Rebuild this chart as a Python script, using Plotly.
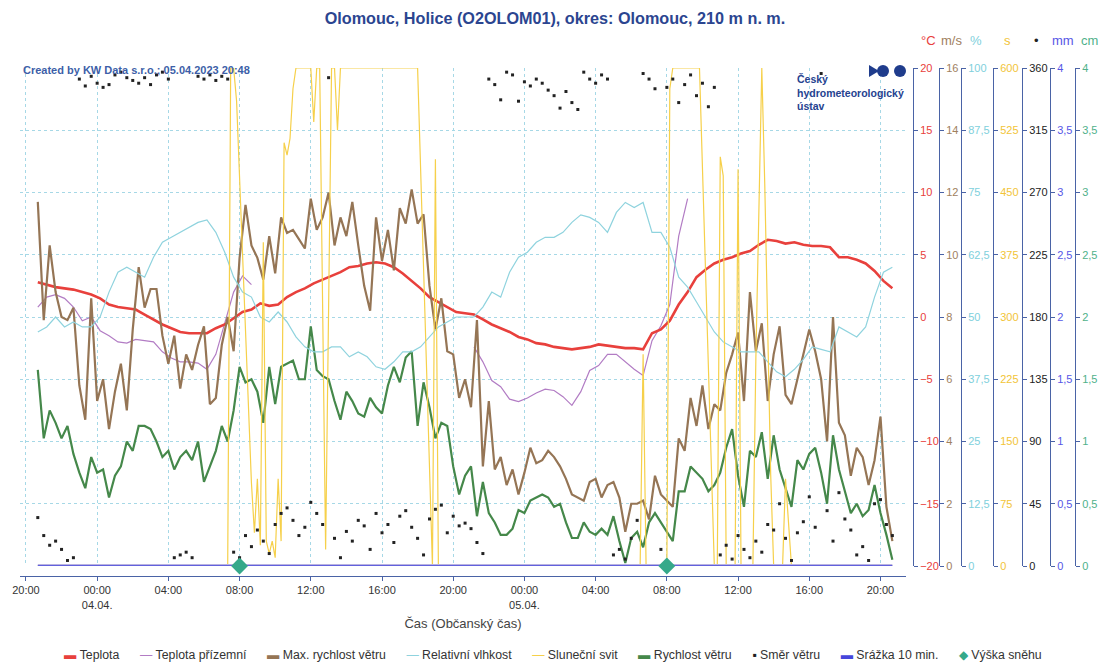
import pandas as pd
import plotly.graph_objects as go

# ---------------- data ----------------
t30 = pd.date_range("2023-04-03 20:40", periods=97, freq="30min")
t20 = pd.date_range("2023-04-03 20:40", periods=145, freq="20min")

temperature = [2.8, 2.6, 2.4, 2.3, 2.2, 2.0, 1.8, 1.5, 1.0, 0.8,
               0.7, 0.6, 0.2, -0.2, -0.6, -0.9, -1.2, -1.3, -1.3, -1.3,
               -0.9, -0.6, -0.1, 0.4, 0.6, 1.1, 0.9, 1.0, 1.6, 2.0,
               2.3, 2.7, 3.0, 3.3, 3.6, 4.0, 4.1, 4.3, 4.4, 4.3,
               4.0, 3.5, 2.9, 2.3, 1.6, 1.2, 0.8, 0.4, 0.3, 0.2,
               -0.2, -0.6, -0.9, -1.2, -1.6, -1.8, -2.1, -2.2, -2.4, -2.5,
               -2.6, -2.5, -2.4, -2.2, -2.3, -2.4, -2.5, -2.5, -2.6, -1.3,
               -1.0, -0.3, 1.0, 2.0, 3.2, 3.8, 4.3, 4.6, 4.8, 5.1,
               5.3, 5.8, 6.2, 6.1, 5.9, 6.0, 5.8, 5.7, 5.7, 5.6,
               4.8, 4.8, 4.6, 4.3, 3.7, 2.9, 2.3]

ground_temperature = ([0.8, 1.6, 1.8, 1.5, 0.8, -0.3, 0.0, -1.1, -1.5, -2.0,
                       -2.1, -1.8, -1.9, -2.0, -2.8, -3.3, -3.6, -3.6, -3.7, -4.2,
                       -3.0, -0.5, 2.0, 3.3, 2.6]
                      + [None] * 24
                      + [-2.4, -3.6, -5.1, -5.6, -6.6, -6.8, -6.5, -6.1, -5.8, -5.9,
                         -6.4, -7.1, -6.0, -4.3, -3.9, -3.0, -3.0, -3.6, -4.2, -4.7,
                         -1.9, -0.7, 1.0, 6.5, 9.5]
                      + [None] * 23)

humidity = [47, 48, 50, 48, 49, 48, 48, 50, 55, 59,
            60, 59, 58, 62, 65, 66, 67, 68, 69, 69.5,
            67, 63, 58, 55, 54, 50, 49, 51, 49, 46,
            44, 43, 43, 44, 44, 42, 43, 42, 40, 39.5,
            41, 43, 43, 44, 46, 48, 49, 50, 50, 50,
            52, 55, 54, 59, 62, 63, 65, 66, 66, 67,
            69, 70.5, 70, 69, 67, 71, 73, 72, 73, 67,
            67, 64, 58, 56, 53, 50, 47, 45, 44, 43,
            43, 43, 41, 39, 38, 39.5, 41.5, 44, 43.5, 43,
            48, 47, 46, 48, 54, 59, 60]

max_wind = [11.7, 7.9, 10.3, 8.8, 8.0, 7.9, 8.3, 5.8, 4.7, 8.6,
            5.3, 6.0, 4.4, 5.6, 6.5, 5.0, 7.6, 9.6, 8.3, 8.9,
            8.9, 7.4, 6.5, 7.4, 5.7, 6.8, 6.3, 7.1, 7.7, 5.2,
            5.4, 7.1, 8.0, 6.9, 9.9, 11.6, 10.3, 9.9, 9.2, 10.6,
            9.4, 11.2, 10.7, 10.8, 10.5, 10.2, 11.8, 10.8, 11.2, 12.0,
            10.3, 11.2, 10.6, 11.7, 10.3, 9.0, 8.2, 11.2, 9.8, 10.8,
            9.5, 11.5, 11.0, 12.1, 11.0, 11.3, 9.0, 7.6, 8.6, 6.9,
            6.8, 5.4, 6.0, 5.1, 7.9, 3.2, 5.3, 3.1, 3.5, 2.6,
            3.1, 2.3, 3.0, 3.8, 3.3, 3.4, 3.7, 3.5, 3.2, 2.8,
            2.3, 2.2, 2.1, 2.7, 2.8, 2.2, 2.6, 2.7, 2.2, 1.1,
            2.0, 2.0, 2.1, 1.5, 2.9, 2.3, 2.1, 1.9, 4.1, 3.7,
            5.4, 4.5, 5.8, 4.4, 5.2, 5.0, 6.2, 6.8, 7.5, 5.3,
            8.8, 6.9, 7.8, 5.3, 6.8, 7.7, 5.5, 5.2, 6.0, 6.8,
            7.6, 6.9, 6.0, 4.0, 8.0, 4.6, 4.2, 2.9, 3.8, 3.5,
            2.6, 3.4, 4.8, 1.9, 0.8]

wind = [6.3, 4.1, 5.0, 4.6, 4.1, 4.5, 3.6, 3.0, 2.5, 3.5,
        3.0, 3.1, 2.2, 2.9, 3.2, 4.0, 3.7, 4.5, 4.5, 4.4,
        4.0, 3.5, 3.7, 3.1, 3.5, 3.7, 3.4, 4.0, 2.7, 3.2,
        3.7, 4.5, 4.0, 5.0, 6.4, 5.9, 6.0, 5.6, 4.6, 6.4,
        5.2, 6.4, 6.5, 6.6, 6.0, 6.0, 7.7, 6.3, 6.1, 6.0,
        5.3, 4.7, 5.6, 5.3, 4.9, 4.8, 5.4, 5.1, 4.9, 5.8,
        6.4, 5.9, 6.7, 6.9, 4.5, 5.9, 5.1, 4.1, 4.6, 4.5,
        3.2, 2.3, 2.9, 3.2, 1.6, 2.7, 1.7, 1.4, 1.0, 1.0,
        1.2, 1.8, 1.7, 2.1, 2.2, 2.3, 2.2, 1.9, 2.0, 1.4,
        0.9, 0.9, 1.4, 1.1, 1.0, 1.2, 1.0, 1.6, 0.8, 0.1,
        0.9, 1.1, 0.6, 1.4, 1.7, 1.4, 1.1, 0.8, 2.4, 2.4,
        3.2, 3.0, 2.8, 2.4, 2.6, 3.0, 3.8, 4.4, 2.9, 1.9,
        3.7, 3.5, 4.3, 2.8, 4.2, 3.1, 2.5, 1.9, 3.4, 3.1,
        3.6, 3.8, 3.0, 2.0, 4.2, 3.1, 2.4, 1.7, 2.0, 1.6,
        1.8, 2.6, 1.7, 1.0, 0.2]

wind_direction = [35, 22, 15, 18, 12, 4, 6, 352, 347, 354,
                  349, 346, 348, 355, 357, 353, 351, 349, 353, 348,
                  355, 357, 352, 6, 8, 10, 6, 354, 352, 355,
                  351, 354, 352, 10, 6, 22, 14, 26, 18, 9,
                  30, 38, 42, 33, 22, 28, 46, 38, 30, 353,
                  20, 6, 25, 18, 33, 29, 12, 38, 24, 30,
                  17, 36, 40, 28, 20, 8, 34, 41, 44, 24,
                  36, 29, 31, 27, 17, 9, 352, 348, 337, 357,
                  355, 336, 350, 347, 352, 349, 344, 340, 331, 343,
                  335, 330, 357, 352, 349, 355, 352, 8, 12, 5,
                  20, 33, 356, 352, 345, 12, 346, 352, 335, 348,
                  355, 340, 349, 332, 346, 8, 15, 5, 22, 12,
                  6, 18, 10, 30, 26, 45, 20, 4, 24, 32,
                  50, 28, 356, 40, 18, 53, 34, 26, 8, 14,
                  4, 45, 48, 30, 22]

sunshine_times = [
    "2023-04-03 20:40", "2023-04-04 07:20", "2023-04-04 07:30", "2023-04-04 07:40",
    "2023-04-04 07:50", "2023-04-04 08:00", "2023-04-04 08:10", "2023-04-04 08:20",
    "2023-04-04 08:30", "2023-04-04 08:40", "2023-04-04 08:50", "2023-04-04 09:00",
    "2023-04-04 09:10", "2023-04-04 09:20", "2023-04-04 09:30", "2023-04-04 09:40",
    "2023-04-04 09:50", "2023-04-04 10:00", "2023-04-04 10:10", "2023-04-04 10:20",
    "2023-04-04 10:30", "2023-04-04 10:40", "2023-04-04 10:50", "2023-04-04 11:00",
    "2023-04-04 11:10", "2023-04-04 12:00", "2023-04-04 12:10", "2023-04-04 12:20",
    "2023-04-04 12:30", "2023-04-04 12:40", "2023-04-04 12:50", "2023-04-04 13:00",
    "2023-04-04 13:10", "2023-04-04 13:20", "2023-04-04 13:30", "2023-04-04 13:40",
    "2023-04-04 18:00", "2023-04-04 18:10", "2023-04-04 18:20", "2023-04-04 18:30",
    "2023-04-04 18:40", "2023-04-04 18:50", "2023-04-04 19:00", "2023-04-04 19:10",
    "2023-04-05 06:30", "2023-04-05 06:40", "2023-04-05 06:50", "2023-04-05 08:00",
    "2023-04-05 08:10", "2023-04-05 08:20", "2023-04-05 09:50", "2023-04-05 10:00",
    "2023-04-05 10:10", "2023-04-05 10:20", "2023-04-05 10:30", "2023-04-05 10:40",
    "2023-04-05 10:50", "2023-04-05 11:00", "2023-04-05 11:10", "2023-04-05 11:20",
    "2023-04-05 11:50", "2023-04-05 12:00", "2023-04-05 12:10", "2023-04-05 12:50",
    "2023-04-05 13:00", "2023-04-05 13:10", "2023-04-05 13:20", "2023-04-05 13:30",
    "2023-04-05 13:40", "2023-04-05 13:50", "2023-04-05 14:00", "2023-04-05 14:30",
    "2023-04-05 14:40", "2023-04-05 14:50", "2023-04-05 15:00", "2023-04-05 20:40"]
sunshine = [0, 0, 600, 600,
            560, 470, 380, 280,
            190, 100, 40, 105,
            25, 390, 30, 15,
            30, 10, 105, 30,
            510, 495, 515, 575,
            600, 600, 535, 600,
            600, 280, 20, 310,
            600, 600, 525, 600,
            600, 480, 360, 240,
            120, 0, 490, 0,
            0, 255, 0, 0,
            575, 600, 600, 480,
            370, 240, 110, 0,
            0, 493, 470, 0,
            0, 478, 0, 0,
            250, 450, 600, 460,
            300, 110, 0, 0,
            105, 50, 0, 0]

precipitation = [0.0] * 97
snow_times = ["2023-04-04 08:00", "2023-04-05 08:00"]
snow = [0, 0]

x_ticks = pd.date_range("2023-04-03 20:00", periods=13, freq="4h")
x_ticktext = ["20:00", "00:00<br>04.04.", "04:00", "08:00", "12:00", "16:00",
              "20:00", "00:00<br>05.04.", "04:00", "08:00", "12:00", "16:00", "20:00"]

# ---------------- styling ----------------
FONT = "Liberation Sans, Arial, sans-serif"
AXIS_BLUE = "#4a63a6"
GRID = "#a6d8e6"
C_TEMP, C_GROUND, C_MAXW = "#e8403c", "#b27cc4", "#957555"
C_HUM, C_SUN, C_WIND = "#8fd3de", "#f6d04a", "#45884a"
C_DIR, C_PREC, C_SNOW = "#222222", "#4646dc", "#35a98a"

W, H = 1108, 663
ML, MR, MT, MB = 20, 30, 68, 87
PW, PH = W - ML - MR, H - MT - MB


def px(x):
    return (x - ML) / PW


def py(y):
    return (H - MB - y) / PH


fig = go.Figure()

fig.add_trace(go.Scatter(x=t30, y=humidity, name="Relativní vlhkost", yaxis="y3",
                         mode="lines", line=dict(color=C_HUM, width=1.2)))
fig.add_trace(go.Scatter(x=pd.to_datetime(sunshine_times), y=sunshine, name="Sluneční svit",
                         yaxis="y4", mode="lines", line=dict(color=C_SUN, width=1.2)))
fig.add_trace(go.Scatter(x=t30, y=ground_temperature, name="Teplota přízemní", yaxis="y",
                         mode="lines", line=dict(color=C_GROUND, width=1.2)))
fig.add_trace(go.Scatter(x=t20, y=max_wind, name="Max. rychlost větru", yaxis="y2",
                         mode="lines", line=dict(color=C_MAXW, width=2.2)))
fig.add_trace(go.Scatter(x=t20, y=wind, name="Rychlost větru", yaxis="y2",
                         mode="lines", line=dict(color=C_WIND, width=2.2)))
fig.add_trace(go.Scatter(x=t20, y=wind_direction, name="Směr větru", yaxis="y5",
                         mode="markers", marker=dict(color=C_DIR, size=3, symbol="square")))
fig.add_trace(go.Scatter(x=t30, y=temperature, name="Teplota", yaxis="y",
                         mode="lines", line=dict(color=C_TEMP, width=2.6)))
fig.add_trace(go.Scatter(x=t30, y=precipitation, name="Srážka 10 min.", yaxis="y6",
                         mode="lines", line=dict(color="#b9b3e0", width=4)))
fig.add_trace(go.Scatter(x=t30, y=precipitation, name="Srážka 10 min.", yaxis="y6",
                         mode="lines", line=dict(color=C_PREC, width=1.5)))
fig.add_trace(go.Scatter(x=pd.to_datetime(snow_times), y=snow, name="Výška sněhu", yaxis="y7",
                         mode="markers", marker=dict(color=C_SNOW, size=13, symbol="diamond"),
                         cliponaxis=False))

DOM = [py(566), 1]


def right_axis(pos, rng, dtick, color, grid=False, overlay=True):
    d = dict(domain=DOM, range=rng, dtick=dtick, tick0=0, side="right", anchor="free",
             position=pos, showline=True, linecolor=AXIS_BLUE, linewidth=1,
             ticks="outside", ticklen=4, tickcolor=AXIS_BLUE,
             tickfont=dict(color=color, size=11, family=FONT),
             zeroline=False, showgrid=grid, fixedrange=True)
    if grid:
        d.update(gridcolor=GRID, griddash="dot", gridwidth=1)
    if overlay:
        d["overlaying"] = "y"
    return d


fig.update_layout(
    width=W, height=H,
    margin=dict(l=ML, r=MR, t=MT, b=MB, autoexpand=False),
    paper_bgcolor="white", plot_bgcolor="white",
    separators=", ",
    font=dict(family=FONT, color="#333333"),
    showlegend=False,
    title=dict(text="<b>Olomouc, Holice (O2OLOM01), okres: Olomouc, 210 m n. m.</b>",
               x=px(555), xanchor="center", xref="paper", y=1 - 18 / H, yanchor="middle",
               font=dict(size=16.2, color="#2b4590", family=FONT)),
    xaxis=dict(domain=[0, px(906)], type="date",
               range=["2023-04-03 19:40", "2023-04-05 21:26"],
               tickvals=x_ticks, ticktext=x_ticktext,
               tickfont=dict(size=11, color="#333333"),
               anchor="free", position=0,
               showline=True, linecolor=AXIS_BLUE, ticks="outside", ticklen=4,
               tickcolor=AXIS_BLUE, showgrid=True, gridcolor=GRID, griddash="dot",
               zeroline=False,
               title=dict(text="Čas (Občanský čas)", font=dict(size=13, color="#444444"),
                          standoff=9)),
    yaxis=right_axis(px(913), [-20, 20], 5, C_TEMP, grid=True, overlay=False),
    yaxis2=right_axis(px(939), [0, 16], 2, "#a0805e"),
    yaxis3=right_axis(px(961), [0, 100], 12.5, "#80d0dc"),
    yaxis4=right_axis(px(993), [0, 600], 75, "#f2c437"),
    yaxis5=right_axis(px(1022), [0, 360], 45, "#222222"),
    yaxis6=right_axis(px(1050), [0, 4], 0.5, "#5656e6"),
    yaxis7=right_axis(px(1075), [0, 4], 0.5, "#4fb18a"),
)

# unit labels above the right axes
units = [("°C", 928, C_TEMP), ("m/s", 951, "#a0805e"), ("%", 976, "#80d0dc"),
         ("s", 1007, "#f2c437"), ("•", 1036, "#222222"), ("mm", 1063, "#5656e6"),
         ("cm", 1089, "#4fb18a")]
for txt, xx, col in units:
    fig.add_annotation(text=txt, x=px(xx), y=py(40), xref="paper", yref="paper",
                       showarrow=False, xanchor="center", yanchor="middle",
                       font=dict(size=13, color=col, family=FONT))

# legend row (symbol + series name)
legend_items = [("▬", C_TEMP, "Teplota"), ("—", C_GROUND, "Teplota přízemní"),
                ("▬", C_MAXW, "Max. rychlost větru"), ("—", C_HUM, "Relativní vlhkost"),
                ("—", C_SUN, "Sluneční svit"), ("▬", C_WIND, "Rychlost větru"),
                ("▪", C_DIR, "Směr větru"), ("▬", C_PREC, "Srážka 10 min."),
                ("◆", C_SNOW, "Výška sněhu")]
legend_text = "&nbsp;&nbsp;&nbsp;&nbsp;&nbsp;&nbsp;".join(
    f"<span style='color:{c}'>{s}</span>&nbsp;{n}" for s, c, n in legend_items)
fig.add_annotation(text=legend_text, x=px(553), y=py(655), xref="paper", yref="paper",
                   showarrow=False, xanchor="center", yanchor="middle",
                   font=dict(size=12.3, color="#333333", family=FONT))

fig.add_annotation(text="<b>Created by KW Data s.r.o.; 05.04.2023 20:48</b>",
                   x=px(21), y=py(70), xref="paper", yref="paper", showarrow=False,
                   xanchor="left", yanchor="middle",
                   font=dict(size=11, color="#3d5fa8", family=FONT))

fig.add_annotation(text="<b>Český<br>hydrometeorologický<br>ústav</b>",
                   x=px(795), y=py(92), xref="paper", yref="paper", showarrow=False,
                   xanchor="left", yanchor="middle", align="left",
                   font=dict(size=10.5, color="#25428f", family=FONT))

# ČHMÚ logo marks (decoration)
LOGO = "#1f3c8c"
fig.add_shape(type="path", xref="paper", yref="paper",
              path=f"M {px(869)} {py(65)} L {px(879)} {py(71)} L {px(869)} {py(77)} Z",
              fillcolor=LOGO, line=dict(width=0))
fig.add_shape(type="circle", xref="paper", yref="paper",
              x0=px(877), x1=px(889), y0=py(77), y1=py(65), fillcolor=LOGO, line=dict(width=0))
fig.add_shape(type="circle", xref="paper", yref="paper",
              x0=px(894), x1=px(906), y0=py(77), y1=py(65), fillcolor=LOGO, line=dict(width=0))

fig.write_html("out.html", config={"displayModeBar": False},
               post_script="document.body.style.margin='0';document.body.style.overflow='hidden';")
